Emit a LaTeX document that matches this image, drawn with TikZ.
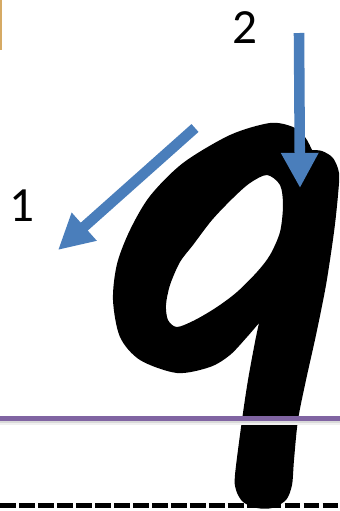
\documentclass[tikz,border=0pt]{standalone}
\usepackage{fontspec}
\setmainfont{Carlito}
\usetikzlibrary{arrows.meta}
\definecolor{strokeblue}{RGB}{74,126,187}
\definecolor{guideviolet}{RGB}{128,100,162}
\definecolor{frametan}{RGB}{214,170,100}

\begin{document}
\begin{tikzpicture}[
                x=0.02cm, y=-0.02cm,
                stroke/.style={draw=strokeblue, line width=6pt, -{Triangle[length=20pt, width=20pt]}},
                steplabel/.style={font=\fontsize{28}{30}\selectfont, inner sep=0pt},
                guideline/.style={guideviolet, line width=2.8pt},
                dashrule/.style={black, line width=2.6pt, dash pattern=on 9pt off 1.8pt},
            ]
            \useasboundingbox (0,0) rectangle (340,511);

            % frame edge and writing lines
            \fill[frametan] (0,0) rectangle (2,50);
            \draw[dashrule] (0,505.5) -- (340,505.5);

            % the letter q
            \fill[black, even odd rule]
                plot[smooth] coordinates {(312,150) (322,151) (333,158) (339,173) (338,195) (334,232)
                    (326,285) (316,335) (306,380) (298,420) (294,460) (292,485) (286,500) (272,508)
                    (257,508) (243,502) (236,490) (235,475) (242,420) (248,380) (255,342) (259,323)}
                -- plot[smooth] coordinates {(259,323) (247,337) (230,355) (210,367) (177,373) (140,360)
                    (120,337) (113,300) (117,264) (130,230) (150,196) (183,163) (230,135) (270,123)
                    (293,127) (305,137) (312,150)}
                -- cycle
                plot[smooth cycle] coordinates {(267,175) (280,185) (283,205) (280,232) (270,255)
                    (257,272) (237,292) (217,307) (195,320) (177,327) (168,320) (166,305) (170,285)
                    (180,262) (193,245) (212,220) (233,198) (250,183)};

            \draw[gray!12, line width=3.2pt] (0,422.5) -- (340,422.5);
            \draw[gray!30, line width=1.2pt] (0,421.5) -- (340,421.5);
            \draw[guideline] (0,418.5) -- (340,418.5);

            % stroke order
            \coordinate (s1) at (195,128);
            \coordinate (e1) at (58,250);
            \coordinate (s2) at (299,33);
            \coordinate (e2) at (300,188);
            \draw[stroke] (s1) -- (e1);
            \draw[stroke] (s2) -- (e2);
            \node[steplabel] (n1) at (22,206) {1};
            \node[steplabel] (n2) at (245,28) {2};
\end{tikzpicture}
\end{document}
